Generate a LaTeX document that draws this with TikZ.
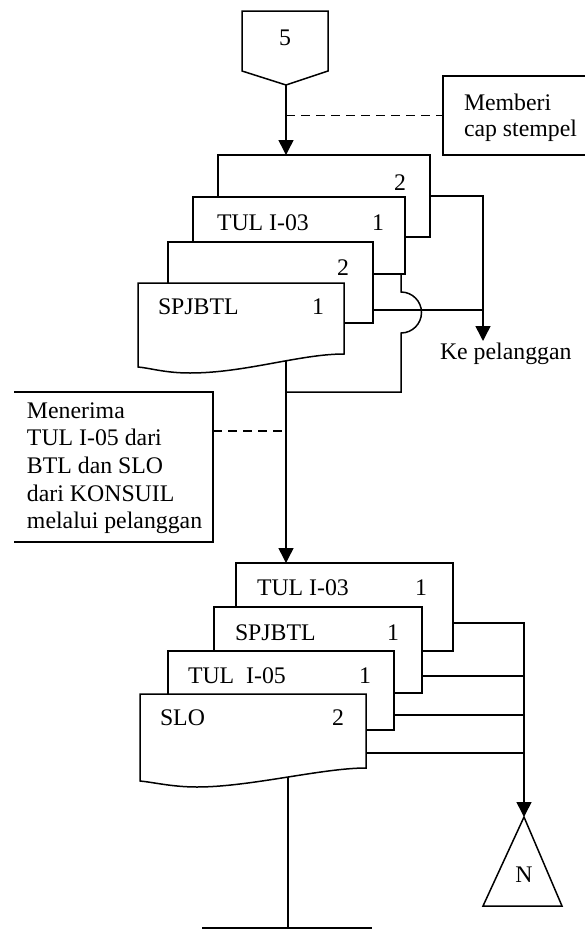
\documentclass[tikz,border=0pt]{standalone}
\usepackage{fontspec}
\setmainfont{Liberation Serif}
\usetikzlibrary{arrows.meta,backgrounds}
\begin{document}
\begin{tikzpicture}[x=1pt,y=-1pt,line width=1.5pt,
 every node/.style={inner sep=0pt,outer sep=0pt,font=\fontsize{23.8}{27.6}\selectfont},
 docbox/.style 2 args={draw,fill=white,rectangle,anchor=north west,minimum width=#1,minimum height=#2},
 blank/.style 2 args={rectangle,anchor=north west,minimum width=#1,minimum height=#2},
 arr/.style={-{Triangle[length=15pt,width=15pt]}},
 lead/.style={dash pattern=on 9pt off 6pt}]
\useasboundingbox (0,0) rectangle (585,929);

% ---------- top ----------
\draw (242,11) -- (328,11) -- (328,71) -- (286,85) -- (242,71) -- cycle;
\node (n5) at (285,38) {5};
\coordinate (p5) at (286,85);

\node[blank={142pt}{79pt}] (memb) at (443,76) {};
\draw (memb.north east) -- (memb.north west) -- (memb.south west) -- (memb.south east);
\node[anchor=base west] (membt1) at (464,110.5) {Memberi};
\node[anchor=base west] (membt2) at (464,136) {cap stempel};

\node[docbox={212pt}{82pt}] (d1) at (218,155) {};
\node[docbox={212pt}{77pt}] (d2) at (193,197) {};
\node[docbox={205pt}{81pt}] (d3) at (168,242) {};
\node[blank={206pt}{71pt}] (d4) at (138,283) {};
\draw[fill=white] (d4.north west) -- (d4.north east) -- (d4.south east)
  .. controls (300,354) and (245,373) .. (190,373)
  .. controls (165,373) and (150,368) .. (138,367) -- cycle;

\node (d1n) at (400,183) {2};
\node[anchor=west] (d2t) at (217,223) {TUL I-03};
\node (d2n) at (378,223) {1};
\node (d3n) at (343,268) {2};
\node[anchor=west] (d4t) at (158,307) {SPJBTL};
\node (d4n) at (318,307) {1};

\node[anchor=base west] (kp) at (440,359) {Ke pelanggan};
\coordinate (kpt) at (483,341);

% ---------- Menerima ----------
\node[blank={199pt}{150pt}] (mn) at (14,392) {};
\draw (mn.north west) -- (mn.north east) -- (mn.south east) -- (mn.south west);
\node[anchor=north west,align=left] (mnt) at (27,402.5)
 {Menerima\\TUL I-05 dari\\BTL dan SLO\\dari KONSUIL\\melalui pelanggan};

% ---------- bottom group ----------
\node[docbox={217pt}{88pt}] (dA) at (236,563) {};
\node[docbox={208pt}{86pt}] (dB) at (214,607) {};
\node[docbox={226pt}{79pt}] (dC) at (168,651) {};
\node[blank={226pt}{74pt}] (dD) at (140,694) {};
\draw[fill=white] (dD.north west) -- (dD.north east) -- (dD.south east)
  .. controls (322,768) and (250,787) .. (197,787)
  .. controls (172,787) and (152,782) .. (140,781) -- cycle;

\node[anchor=west] (dAt) at (257,588) {TUL I-03};
\node (dAn) at (421,588) {1};
\node[anchor=west] (dBt) at (235,633) {SPJBTL};
\node (dBn) at (393,633) {1};
\node[anchor=west] (dCt) at (188,676) {TUL\ \ I-05};
\node (dCn) at (365,676) {1};
\node[anchor=west] (dDt) at (160,718) {SLO};
\node (dDn) at (338,718) {2};

\coordinate (apex) at (524,817);
\draw (apex) -- (562,906) -- (483,906) -- cycle;
\node (nN) at (524,875) {N};

\coordinate (bt) at (288,928);
\coordinate (bl) at (202,928);
\coordinate (br) at (372,928);
\coordinate (jm) at (286,392);

% ---------- connectors ----------
\begin{pgfonlayer}{background}
\begin{scope}[line width=1.5pt]
\draw[arr] (p5) -- (p5 |- d1.north);
\draw[lead] (p5 |- memb.west) -- (memb.west);
\draw[arr] (d1.east) -| (kpt);
\coordinate (h1) at (0,310);
\draw (d3.east |- h1) -- (h1 -| kpt);
\coordinate (jt) at (401,274);
\draw (jt) -- (401,292) .. controls (412.3,292) and (421.5,301.2) .. (421.5,312.5)
  .. controls (421.5,323.8) and (412.3,333) .. (401,333) -- (401,392) -- (jm);
\draw[arr] (d4.south -| jm) -- (dA.north -| jm);
\coordinate (dm) at (0,431);
\draw[lead] (mn.east |- dm) -- (dm -| jm);

\coordinate (ha) at (0,623);
\coordinate (hb) at (0,676);
\coordinate (hc) at (0,715);
\coordinate (hd) at (0,753);
\draw[arr] (dA.east |- ha) -| (apex);
\draw (dB.east |- hb) -- (hb -| apex);
\draw (dC.east |- hc) -- (hc -| apex);
\draw (dD.east |- hd) -- (hd -| apex);
\draw (dD.south -| bt) -- (bt);
\draw (bl) -- (br);
\end{scope}
\end{pgfonlayer}
\end{tikzpicture}
\end{document}
